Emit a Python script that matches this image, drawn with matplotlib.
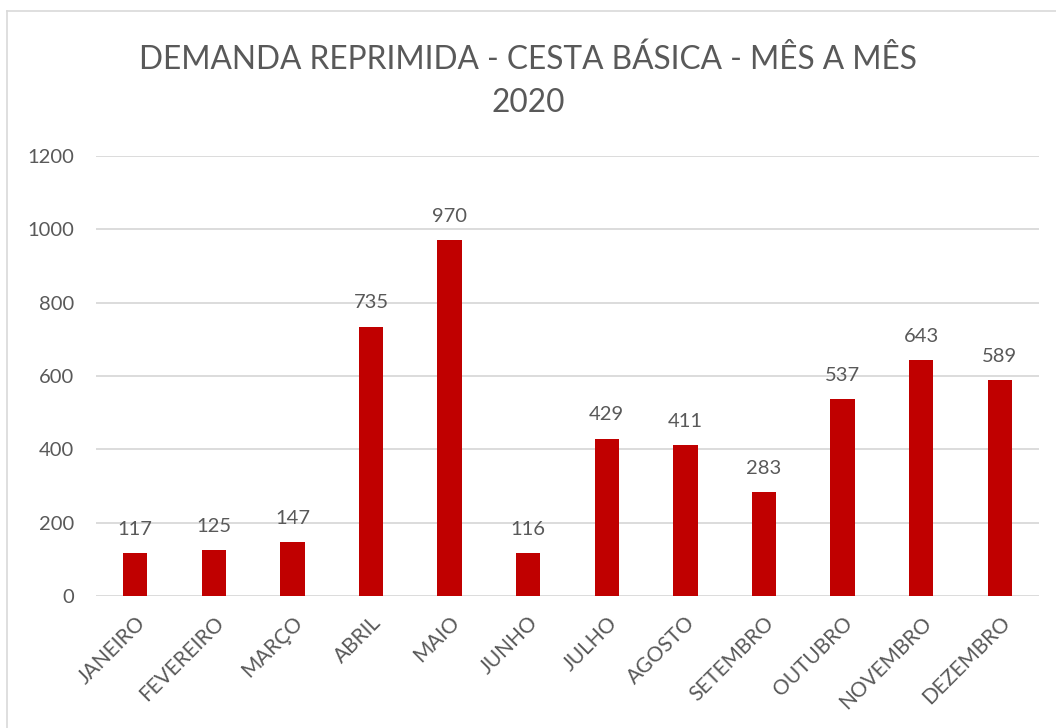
import matplotlib
matplotlib.use("Agg")
import matplotlib.pyplot as plt
from matplotlib.lines import Line2D

meses = ["JANEIRO", "FEVEREIRO", "MARÇO", "ABRIL", "MAIO", "JUNHO",
         "JULHO", "AGOSTO", "SETEMBRO", "OUTUBRO", "NOVEMBRO", "DEZEMBRO"]
demanda = [117, 125, 147, 735, 970, 116, 429, 411, 283, 537, 643, 589]
yticks = [0, 200, 400, 600, 800, 1000, 1200]
titulo = "DEMANDA REPRIMIDA - CESTA BÁSICA - MÊS A MÊS\n2020"

plt.rcParams["font.family"] = ["Lato", "DejaVu Sans"]
texto = "#595959"

W, H = 1056, 728
fig = plt.figure(figsize=(W / 100, H / 100), dpi=100)
ax = fig.add_axes([96 / W, 1 - 596 / H, (1039 - 96) / W, (596 - 156) / H])

x = list(range(len(meses)))
bars = ax.bar(x, demanda, width=0.31, color="#C00000", zorder=3)
for b, v in zip(bars, demanda):
    ax.annotate(f"{v}", (b.get_x() + b.get_width() / 2, v),
                xytext=(0, 11), textcoords="offset points",
                ha="center", va="bottom", fontsize=14.5, color=texto)

ax.set_xlim(-0.5, len(meses) - 0.5)
ax.set_ylim(0, 1200)
ax.set_yticks(yticks)
ax.set_yticklabels([str(t) for t in yticks], fontsize=14.5, color=texto)
ax.set_xticks(x)
ax.set_xticklabels(meses, rotation=45, ha="right", rotation_mode="anchor",
                   fontsize=15, color=texto)
ax.tick_params(axis="both", length=0)
ax.tick_params(axis="y", pad=16)
ax.tick_params(axis="x", pad=12)
ax.grid(axis="y", color="#D9D9D9", linewidth=1.3, zorder=0)
for s in ax.spines.values():
    s.set_visible(False)

fig.text(0.5, 1 - 81 / H, titulo, ha="center", va="center",
         fontsize=22.8, color=texto, linespacing=1.55)

# outer chart frame (top and left edges visible)
fig.add_artist(Line2D([7 / W, 1.0], [1 - 11 / H, 1 - 11 / H],
                      transform=fig.transFigure, color="#D9D9D9", lw=1.2))
fig.add_artist(Line2D([7 / W, 7 / W], [0.0, 1 - 11 / H],
                      transform=fig.transFigure, color="#D9D9D9", lw=1.2))

fig.savefig("out.png", dpi=100, facecolor="white")
